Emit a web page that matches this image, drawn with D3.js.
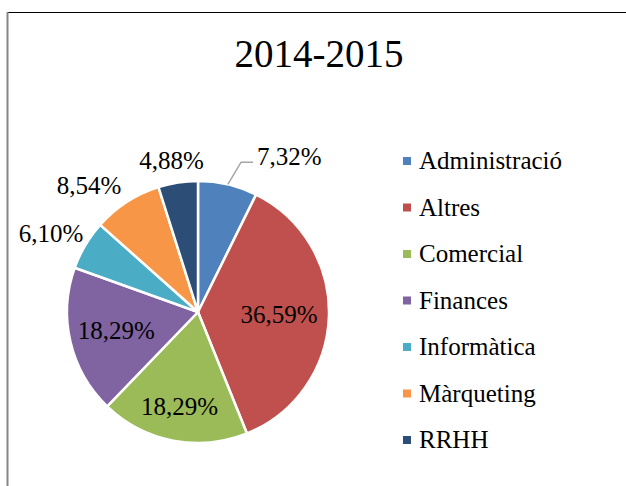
<!DOCTYPE html>
<html>
<head>
<meta charset="utf-8">
<script src="https://d3js.org/d3.v7.min.js"></script>
<style>
  body { margin: 0; background: #fff; }
  text { font-family: "Liberation Serif", "Times New Roman", serif; fill: #000; }
</style>
</head>
<body>
<div id="container"></div>
<script>
  // data
  var categories = ["Administració", "Altres", "Comercial", "Finances", "Informàtica", "Màrqueting", "RRHH"];
  var values = [7.32, 36.59, 18.29, 18.29, 6.10, 8.54, 4.88];
  var labels = ["7,32%", "36,59%", "18,29%", "18,29%", "6,10%", "8,54%", "4,88%"];
  var title = "2014-2015";

  // svg dimensions
  var width = 626, height = 486;
  var cx = 198, cy = 312, radius = 131;

  var colors = ["#4F81BD", "#C0504D", "#9BBB59", "#8064A2", "#4BACC6", "#F79646", "#2C4D75"];
  var color = d3.scaleOrdinal().domain(categories).range(colors);

  var svg = d3.select("#container").append("svg")
    .attr("width", width)
    .attr("height", height);

  // chart border (top + left visible)
  svg.append("line")
    .attr("x1", 7).attr("y1", 12.5).attr("x2", width).attr("y2", 12.5)
    .attr("stroke", "#000").attr("stroke-width", 1.2);
  svg.append("line")
    .attr("x1", 7.5).attr("y1", 12).attr("x2", 7.5).attr("y2", height)
    .attr("stroke", "#858585").attr("stroke-width", 2);

  // title
  svg.append("text")
    .attr("x", 319)
    .attr("y", 67)
    .attr("text-anchor", "middle")
    .style("font-size", "39px")
    .text(title);

  var data = categories.map(function(c, i) {
    return { name: c, value: values[i], label: labels[i] };
  });

  var pie = d3.pie().sort(null).value(function(d) { return d.value; });
  var arcs = pie(data);

  var arc = d3.arc().innerRadius(0).outerRadius(radius);

  var g = svg.append("g").attr("transform", "translate(" + cx + "," + cy + ")");

  g.selectAll("path.slice")
    .data(arcs)
    .enter().append("path")
    .attr("class", "slice")
    .attr("d", arc)
    .attr("fill", function(d) { return color(d.data.name); })
    .attr("stroke", "#fff")
    .attr("stroke-width", 2.5)
    .attr("stroke-linejoin", "round");

  // label placement: inside for the big slices, outside for small ones
  function mid(d) { return (d.startAngle + d.endAngle) / 2; }
  function polar(r, a) { return [r * Math.sin(a), -r * Math.cos(a)]; }

  var labelFactor = { "Altres": 0.62, "Finances": 0.64, "Comercial": 0.74,
                      "RRHH": 1.17, "Màrqueting": 1.27, "Informàtica": 1.27 };
  var angleShift = { "Màrqueting": -0.14, "Informàtica": -0.05, "RRHH": -0.02 };

  arcs.forEach(function(d) {
    var name = d.data.name;
    if (name === "Administració") {
      // label with leader line
      var p0 = polar(radius, mid(d));
      var p1 = polar(radius * 1.19, mid(d) + 0.05);
      g.append("polyline")
        .attr("points", [p0, p1, [p1[0] + 12, p1[1]]].map(function(p) { return p.join(","); }).join(" "))
        .attr("fill", "none")
        .attr("stroke", "#A6A6A6")
        .attr("stroke-width", 1.5);
      g.append("text")
        .attr("x", p1[0] + 16)
        .attr("y", p1[1] + 3)
        .style("font-size", "25px")
        .text(d.data.label);
      return;
    }
    var p = polar(radius * labelFactor[name], mid(d) + (angleShift[name] || 0));
    g.append("text")
      .attr("x", p[0])
      .attr("y", p[1] + 8)
      .attr("text-anchor", "middle")
      .style("font-size", "25px")
      .text(d.data.label);
  });

  // legend
  var legendY = d3.scalePoint().domain(categories).range([161, 440]);
  var legend = svg.append("g");
  var items = legend.selectAll("g.item")
    .data(categories)
    .enter().append("g")
    .attr("class", "item")
    .attr("transform", function(d) { return "translate(403," + legendY(d) + ")"; });
  items.append("rect")
    .attr("x", 0).attr("y", -4)
    .attr("width", 8).attr("height", 8)
    .attr("fill", function(d) { return color(d); });
  items.append("text")
    .attr("x", 16)
    .attr("y", 8)
    .style("font-size", "25px")
    .text(function(d) { return d; });
</script>
</body>
</html>
